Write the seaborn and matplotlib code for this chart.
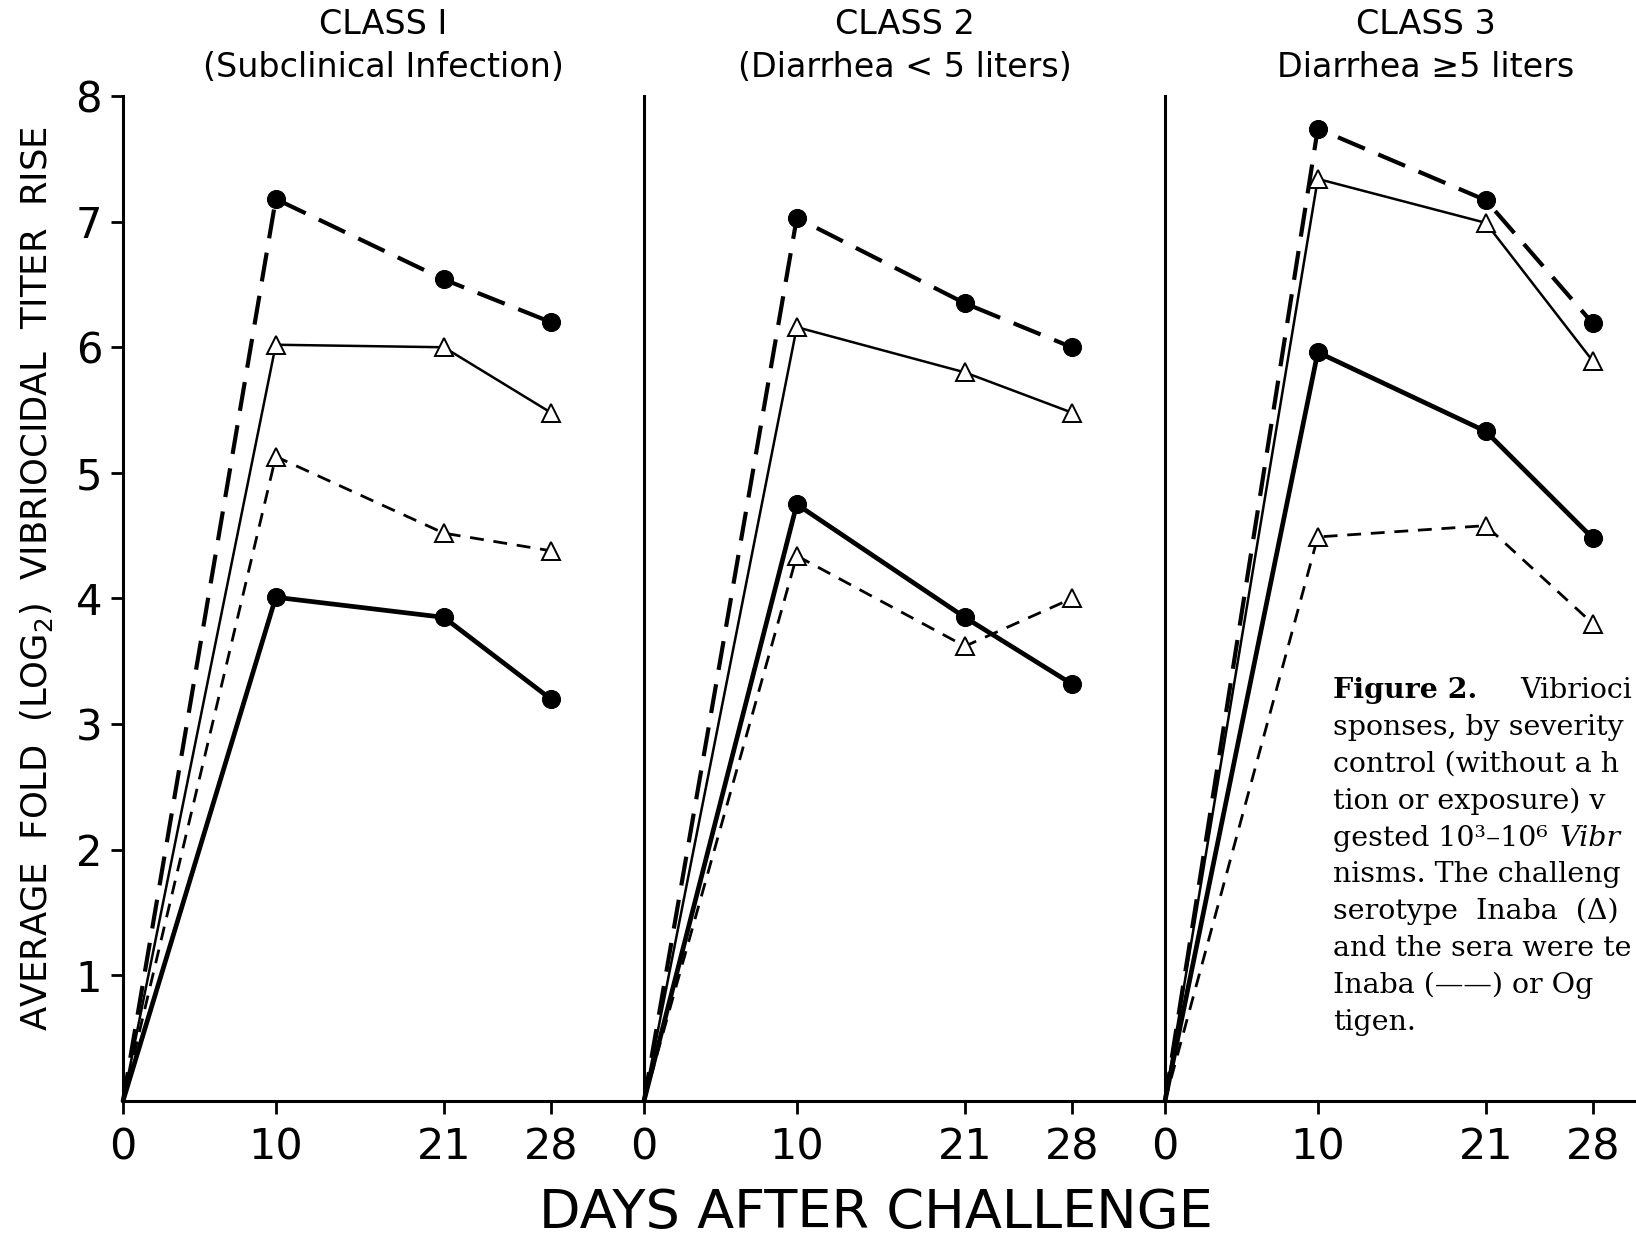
"""
Vibriocidal titer rise by severity class - recreated figure
"""

import numpy as np
import pandas as pd
import matplotlib
matplotlib.use("Agg")
import matplotlib.pyplot as plt
import seaborn as sns
from matplotlib import font_manager

# --- data -------------------------------------------------------------
days = [0, 10, 21, 28]
panel_titles = ["CLASS I\n(Subclinical Infection)",
                "CLASS 2\n(Diarrhea < 5 liters)",
                "CLASS 3\nDiarrhea \u22655 liters"]

# one row per panel (class 1, 2, 3), values at days 0, 10, 21, 28
ogawa_ogawa = [[0, 7.18, 6.54, 6.20], [0, 7.03, 6.35, 6.00], [0, 7.74, 7.17, 6.19]]  # circle, dashed
inaba_inaba = [[0, 6.02, 6.00, 5.48], [0, 6.16, 5.80, 5.48], [0, 7.34, 6.99, 5.89]]  # triangle, solid
inaba_ogawa = [[0, 5.13, 4.52, 4.38], [0, 4.34, 3.62, 4.00], [0, 4.49, 4.58, 3.80]]  # triangle, dashed
ogawa_inaba = [[0, 4.01, 3.85, 3.20], [0, 4.75, 3.85, 3.32], [0, 5.96, 5.33, 4.48]]  # circle, solid

y_ticks = [1, 2, 3, 4, 5, 6, 7, 8]

caption_lines = ["sponses, by severity", "control (without a h",
                 "tion or exposure) v", "gested 10\u00b3\u201310\u2076", "nisms. The challeng",
                 "serotype  Inaba  (\u0394)", "and the sera were te", "Inaba (\u2014\u2014) or Og",
                 "tigen."]

# --- style ------------------------------------------------------------
sns.set_style("white")
available = {f.name for f in font_manager.fontManager.ttflist}
narrow = "Liberation Sans Narrow" if "Liberation Sans Narrow" in available else "DejaVu Sans"
plt.rcParams['font.family'] = [narrow, 'DejaVu Sans']
for key in ['text.color', 'axes.labelcolor', 'xtick.color', 'ytick.color']:
    plt.rcParams[key] = 'black'

series_styles = [
    (ogawa_ogawa, dict(marker='o', ms=13, mfc='black', mec='black', lw=3.0, dashes=(7, 3.5))),
    (inaba_inaba, dict(marker='^', ms=13, mfc='white', mec='black', mew=1.4, lw=1.8, dashes=None)),
    (inaba_ogawa, dict(marker='^', ms=13, mfc='white', mec='black', mew=1.4, lw=2.0, dashes=(5, 3.5))),
    (ogawa_inaba, dict(marker='o', ms=13, mfc='black', mec='black', lw=3.4, dashes=None)),
]

W, H = 1636, 1242
fig = plt.figure(figsize=(W / 100, H / 100), dpi=100)

x0_px, panel_px, top_px, base_px = 123, 521, 96, 1101
for i in range(3):
    ax = fig.add_axes([(x0_px + i * panel_px) / W, (H - base_px) / H,
                       panel_px / W, (base_px - top_px) / H])
    for values, st in series_styles:
        st = dict(st)
        dashes = st.pop('dashes')
        df = pd.DataFrame({'day': days, 'rise': values[i]})
        line_kw = dict(color='black', markevery=[1, 2, 3], zorder=3, clip_on=False)
        if dashes is not None:
            line_kw['linestyle'] = (0, dashes)
        sns.lineplot(data=df, x='day', y='rise', ax=ax, **st, **line_kw)

    ax.set_xlim(0, 34.1)
    ax.set_ylim(0, 8)
    ax.set_xticks(days)
    ax.set_xticklabels([str(d) for d in days], fontsize=31)
    ax.tick_params(axis='x', direction='out', length=9, width=2, pad=9, bottom=True)
    ax.set_xlabel('')
    ax.set_ylabel('')
    for side in ['top', 'right']:
        ax.spines[side].set_visible(False)
    for side in ['left', 'bottom']:
        ax.spines[side].set_linewidth(2.2)
        ax.spines[side].set_color('black')
    if i == 0:
        ax.set_yticks(y_ticks)
        ax.set_yticklabels([str(t) for t in y_ticks], fontsize=30)
        ax.tick_params(axis='y', direction='out', length=9, width=2, pad=6, left=True)
    else:
        ax.set_yticks([])
    ax.set_title(panel_titles[i], fontsize=24, linespacing=1.35, pad=14)

fig.text(37 / W, 1 - 579 / H, 'AVERAGE  FOLD  (LOG$_2$)  VIBRIOCIDAL  TITER  RISE',
         rotation=90, ha='center', va='center', fontsize=25.5)
fig.text(876 / W, 1 - 1213 / H, 'DAYS AFTER CHALLENGE', ha='center', va='center', fontsize=39)

# caption (cut off at the right edge as in the scan)
cap_font = dict(family='DejaVu Serif', fontsize=20.5, va='baseline')
cap_x, cap_y0, cap_dy = 1333 / W, 698, 36.9
fig.text(cap_x, 1 - cap_y0 / H, 'Figure 2.', fontweight='bold', **cap_font)
fig.text(1520 / W, 1 - cap_y0 / H, 'Vibrioci', **cap_font)
line_texts = []
for k, line in enumerate(caption_lines, start=1):
    line_texts.append(fig.text(cap_x, 1 - (cap_y0 + k * cap_dy) / H, line, **cap_font))

# italic genus name follows the "gested ..." line
fig.canvas.draw()
bb = line_texts[3].get_window_extent(renderer=fig.canvas.get_renderer())
fig.text((bb.x1 + 12) / W, 1 - (cap_y0 + 4 * cap_dy) / H, 'Vibr', style='italic', **cap_font)

fig.savefig('out.png', dpi=100)
